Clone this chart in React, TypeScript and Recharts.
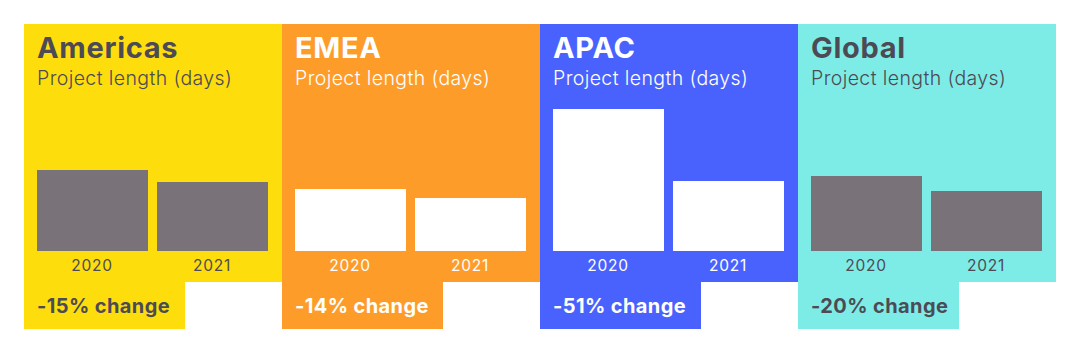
import { Bar, BarChart, XAxis, YAxis } from "recharts";

const regions = ["Americas", "EMEA", "APAC", "Global"];
const years = ["2020", "2021"];
const days2020 = [81, 62, 142, 75];
const days2021 = [69, 53, 70, 60];
const changes = ["-15%", "-14%", "-51%", "-20%"];

const panelBg = ["#fedd0d", "#fe9c29", "#4a62fd", "#7eece6"];
const inkColor = ["#4c4b55", "#ffffff", "#ffffff", "#4c4b55"];
const barColor = ["#797279", "#ffffff", "#ffffff", "#797279"];

const PANEL_W = 258;
const PANEL_H = 258;
const LEFT = 24;
const TOP = 24;
const FONT = "Inter, 'Noto Sans', sans-serif";

function Panel({ index }: { index: number }) {
  const data = years.map((year, i) => ({
    year,
    days: i === 0 ? days2020[index] : days2021[index],
  }));
  const ink = inkColor[index];
  const x = LEFT + index * PANEL_W;

  return (
    <>
      <div
        style={{
          position: "absolute",
          left: x,
          top: TOP,
          width: PANEL_W,
          height: PANEL_H,
          background: panelBg[index],
        }}
      >
        <div
          style={{
            position: "absolute",
            left: 13,
            top: 6,
            fontSize: 29,
            fontWeight: 700,
            color: ink,
            letterSpacing: 0.7,
            whiteSpace: "nowrap",
          }}
        >
          {regions[index]}
        </div>
        <div
          style={{
            position: "absolute",
            left: 13,
            top: 42,
            fontSize: 19.5,
            fontWeight: 300,
            color: ink,
            letterSpacing: 0.4,
            whiteSpace: "nowrap",
          }}
        >
          Project length (days)
        </div>
        <div style={{ position: "absolute", left: 0, top: 0 }}>
          <BarChart
            width={PANEL_W}
            height={PANEL_H}
            data={data}
            margin={{ top: 67, right: 10, bottom: 0, left: 8 }}
          >
            <YAxis hide domain={[0, 160]} />
            <XAxis
              dataKey="year"
              axisLine={false}
              tickLine={false}
              height={31}
              tickMargin={3}
              tick={{ fill: ink, fontSize: 15.5, fontFamily: FONT, letterSpacing: 0.7 }}
            />
            <Bar dataKey="days" fill={barColor[index]} barSize={111} isAnimationActive={false} />
          </BarChart>
        </div>
      </div>
      <div
        style={{
          position: "absolute",
          left: x,
          top: TOP + PANEL_H,
          width: 161,
          height: 47,
          background: panelBg[index],
        }}
      >
        <div
          style={{
            position: "absolute",
            left: 13,
            top: 12,
            fontSize: 20,
            fontWeight: 700,
            color: ink,
            letterSpacing: 0.4,
            whiteSpace: "nowrap",
          }}
        >
          {changes[index]} change
        </div>
      </div>
    </>
  );
}

export default function App() {
  return (
    <div
      style={{
        position: "absolute",
        left: 0,
        top: 0,
        width: 1080,
        height: 357,
        background: "#ffffff",
        fontFamily: FONT,
        overflow: "hidden",
      }}
    >
      {regions.map((_, i) => (
        <Panel key={regions[i]} index={i} />
      ))}
    </div>
  );
}
